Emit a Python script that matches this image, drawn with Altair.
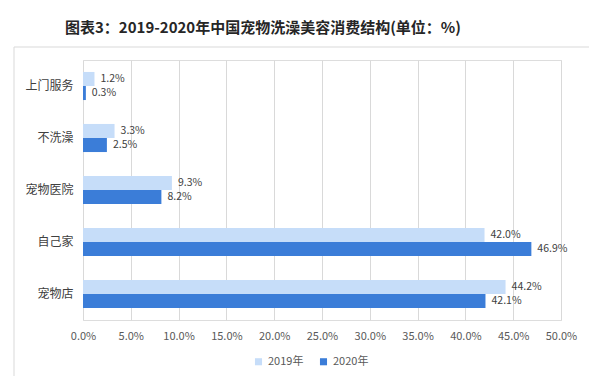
import altair as alt
import pandas as pd

categories = ["上门服务", "不洗澡", "宠物医院", "自己家", "宠物店"]
years = ["2019年", "2020年"]
values_2019 = [1.2, 3.3, 9.3, 42.0, 44.2]
values_2020 = [0.3, 2.5, 8.2, 46.9, 42.1]
colors = ["#c6ddf9", "#3b7dd8"]
title_text = "图表3：2019-2020年中国宠物洗澡美容消费结构(单位：%)"

rows = []
for c, a, b in zip(categories, values_2019, values_2020):
    rows.append({"cat": c, "year": years[0], "v": a})
    rows.append({"cat": c, "year": years[1], "v": b})
df = pd.DataFrame(rows)
df["label"] = df["v"].map(lambda v: f"{v:.1f}%")

FONT = "Noto Sans CJK SC"

y_enc = alt.Y("cat:N", sort=categories, title=None,
              scale=alt.Scale(paddingInner=0.46, paddingOuter=0.23),
              axis=alt.Axis(domain=False, ticks=False, labelPadding=10,
                            labelFontSize=12, labelColor="#404040", labelFont=FONT))
yoff = alt.YOffset("year:N", sort=years)
x_enc = alt.X("v:Q", title=None,
              scale=alt.Scale(domain=[0, 50], nice=False),
              axis=alt.Axis(values=list(range(0, 51, 5)), domain=False, ticks=False,
                            grid=True, gridColor="#d9d9d9", labelPadding=10, labelFlush=False,
                            labelExpr="format(datum.value, '.1f') + '%'",
                            labelFontSize=11, labelColor="#595959", labelFont=FONT))

bars = alt.Chart(df).mark_bar().encode(
    x=x_enc, y=y_enc, yOffset=yoff,
    color=alt.Color("year:N", sort=years,
                    scale=alt.Scale(domain=years, range=colors),
                    legend=alt.Legend(title=None, orient="none", direction="horizontal",
                                      legendX=170, legendY=296, symbolType="square",
                                      symbolSize=50, labelFontSize=11, labelColor="#595959",
                                      labelFont=FONT, columnPadding=14, symbolStrokeWidth=0)),
)

texts = alt.Chart(df).mark_text(align="left", dx=6, fontSize=10.5, color="#404040", font=FONT).encode(
    x="v:Q", y=alt.Y("cat:N", sort=categories), yOffset=yoff, text="label:N"
)

box = alt.Chart(pd.DataFrame({"k": [0]})).mark_rect(fill=None, stroke="#d9d9d9", strokeWidth=1).encode(
    x=alt.value(-69), x2=alt.value(507), y=alt.value(-13), y2=alt.value(322)
)

chart = alt.layer(box, bars, texts).properties(
    width=478, height=260,
    autosize=alt.AutoSizeParams(type="none"),
    padding={"left": 75, "top": 52, "right": 28, "bottom": 56},
    title=alt.TitleParams(title_text, anchor="middle", dx=-59, offset=11, fontSize=15,
                          fontWeight="bold", font=FONT, color="#262626"),
).configure_view(stroke=None).configure(background="white")

chart.save("out.html", embed_options={"renderer": "svg", "actions": False})
